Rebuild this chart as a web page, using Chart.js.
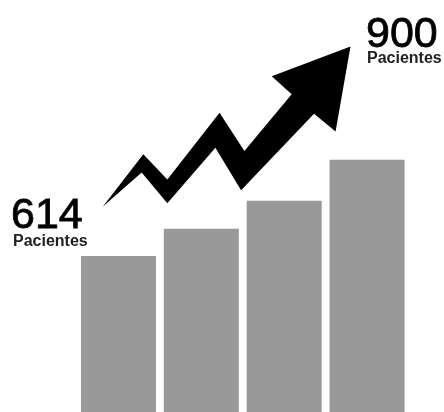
<!DOCTYPE html>
<html>
<head>
<meta charset="utf-8">
<script src="https://cdn.jsdelivr.net/npm/chart.js@4"></script>
<style>
  body { margin: 0; background: #fff; }
  #wrap { width: 444px; height: 412px; position: relative; }
</style>
</head>
<body>
<div id="wrap"><canvas id="myChart"></canvas></div>
<script>
// Data
var categories = ['1', '2', '3', '4'];
var pacientes = [614, 695, 778, 900];
var unidad = 'Pacientes';

// Arrow outline, in category / patient units
var arrowX = [-0.19, 0.30, 0.59, 1.22, 1.52, 2.09, 1.85, 2.80, 2.62, 2.36, 1.48, 1.17, 0.59, 0.28];
var arrowY = [760, 916, 841, 1040, 926, 1095, 1148, 1237, 984, 1037, 809, 936, 771, 862];

// Draw the zigzag arrow and the two labels
var arrowPlugin = {
  id: 'arrow',
  afterDatasetsDraw: function(chart) {
    var c = chart.ctx;
    var xs = chart.scales.x;
    var ys = chart.scales.y;
    var w = xs.getPixelForValue(1) - xs.getPixelForValue(0);
    c.save();
    c.beginPath();
    for (var i = 0; i < arrowX.length; i++) {
      var px = xs.getPixelForValue(0) + arrowX[i] * w;
      var py = ys.getPixelForValue(arrowY[i]);
      if (i === 0) c.moveTo(px, py); else c.lineTo(px, py);
    }
    c.closePath();
    c.fillStyle = '#000';
    c.fill();

    var first = pacientes[0];
    var last = pacientes[pacientes.length - 1];
    c.textBaseline = 'alphabetic';
    c.textAlign = 'left';
    c.fillStyle = '#000';
    c.strokeStyle = '#000';
    c.lineWidth = 0.8;
    c.font = '43px "Liberation Sans", Arial, sans-serif';
    c.fillText(String(first), 11, 228);
    c.strokeText(String(first), 11, 228);
    c.fillText(String(last), 366, 47);
    c.strokeText(String(last), 366, 47);
    c.fillStyle = '#222';
    c.font = 'bold 16px "Liberation Sans", Arial, sans-serif';
    c.fillText(unidad, 13, 246);
    c.fillText(unidad, 367, 63);
    c.restore();
  }
};

var ctx = document.getElementById('myChart').getContext('2d');

var chart = new Chart(ctx, {
  type: 'bar',
  data: {
    labels: categories,
    datasets: [{
      label: unidad,
      backgroundColor: '#999999',
      borderWidth: 0,
      data: pacientes,
      categoryPercentage: 1,
      barPercentage: 0.905
    }]
  },
  options: {
    responsive: true,
    maintainAspectRatio: false,
    animation: false,
    layout: { padding: { left: 77, right: 35.5, top: 0, bottom: 0 } },
    plugins: {
      legend: { display: false },
      tooltip: { enabled: false }
    },
    scales: {
      x: { display: false },
      y: { display: false, min: 150, max: 1375 }
    }
  },
  plugins: [arrowPlugin]
});
</script>
</body>
</html>
